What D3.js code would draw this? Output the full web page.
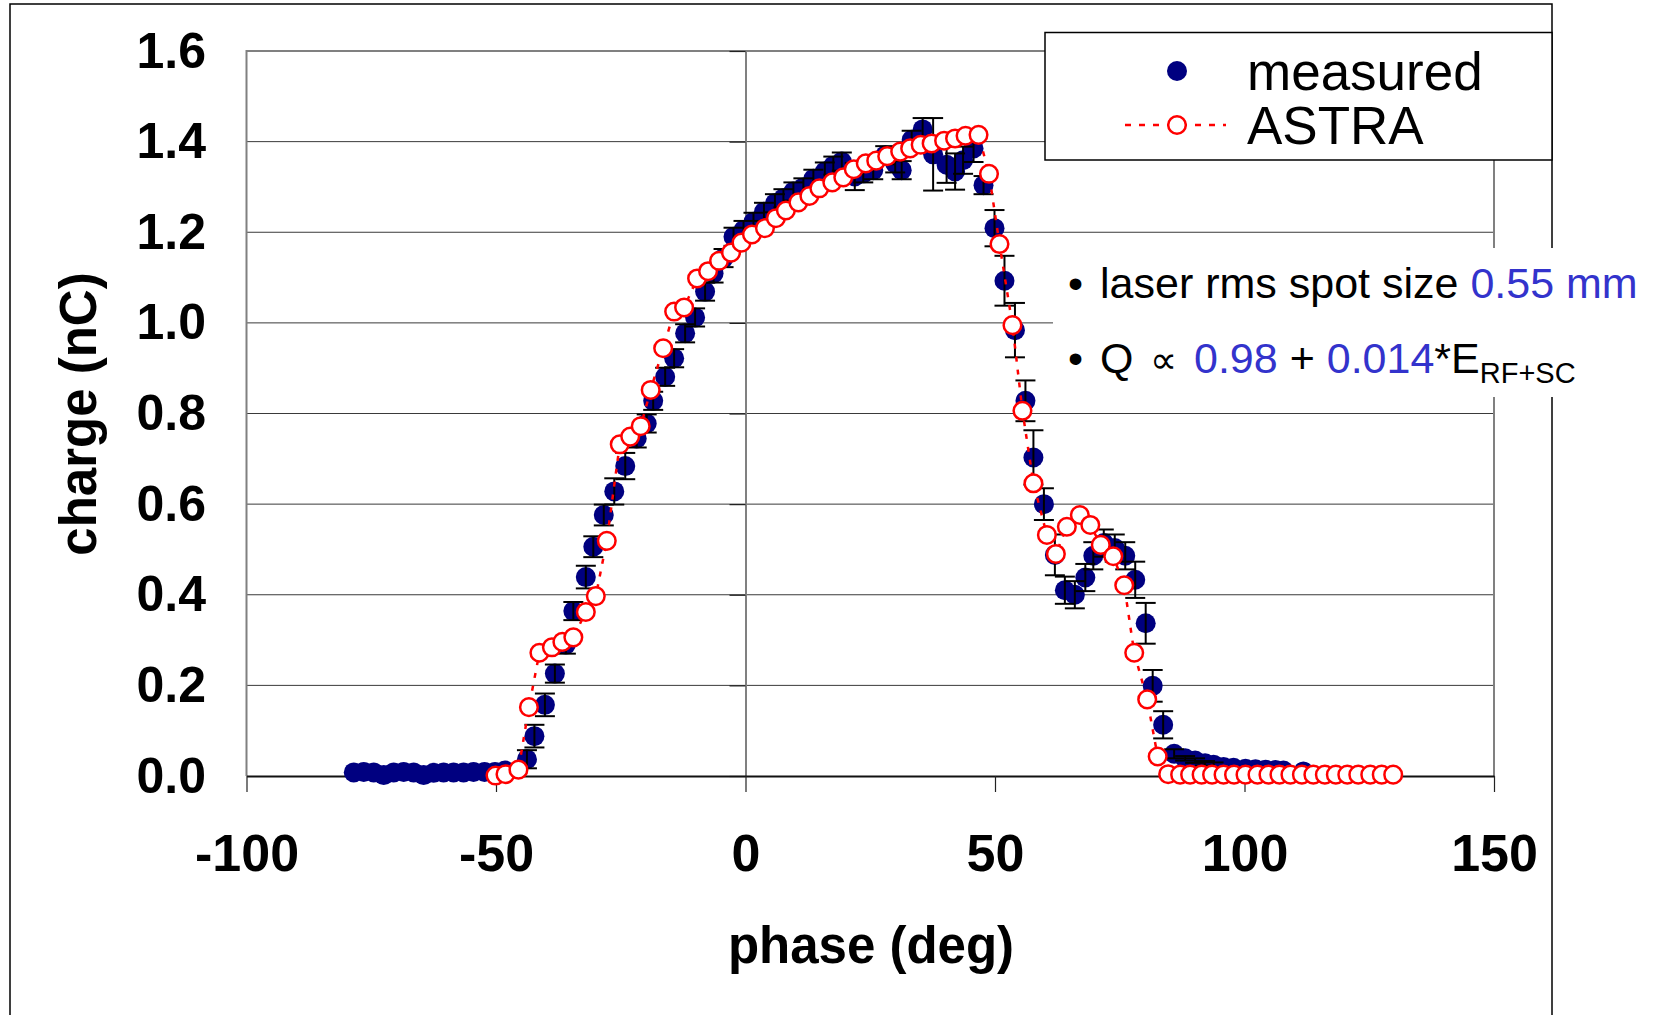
<!DOCTYPE html>
<html>
<head>
<meta charset="utf-8">
<script src="https://cdn.jsdelivr.net/npm/d3@7"></script>
<style>
  body { margin: 0; background: #fff; }
  text { font-family: "Liberation Sans", Arial, sans-serif; }
</style>
</head>
<body>
<div id="chart"></div>
<script>
// measured charge vs phase
var measPhase = [-78.5, -76.5, -74.5, -72.5, -70.5, -68.5, -66.5, -64.5, -62.5, -60.5,
  -58.5, -56.5, -54.5, -52.3, -50.2, -48.2, -43.8, -42.3, -40.2, -38.2,
  -36.0, -34.5, -32.0, -30.5, -28.4, -26.3, -24.1, -21.8, -19.8, -18.5,
  -16.1, -14.3, -12.1, -10.1, -8.1, -6.4, -4.4, -2.4, -0.4, 1.6,
  3.7, 5.9, 7.6, 9.6, 11.6, 13.6, 15.9, 17.6, 19.3, 21.9,
  23.6, 25.6, 28.0, 30.0, 31.3, 33.3, 35.5, 37.6, 40.3, 42.0,
  43.6, 45.7, 47.7, 49.9, 51.9, 54.0, 56.1, 57.7, 59.8, 62.0,
  64.0, 66.0, 68.1, 69.7, 71.8, 74.0, 76.1, 78.1, 80.2, 81.6,
  83.7, 85.9, 88.1, 90.1, 92.1, 93.8, 95.8, 97.8, 100.2, 102.2,
  104.2, 106.2, 107.8, 111.8];
var measCharge = [0.008, 0.009, 0.008, 0.002, 0.008, 0.009, 0.008, 0.002, 0.007, 0.008,
  0.008, 0.008, 0.009, 0.009, 0.009, 0.012, 0.037, 0.088, 0.157, 0.226,
  0.29, 0.364, 0.439, 0.506, 0.576, 0.628, 0.684, 0.745, 0.778, 0.828,
  0.881, 0.922, 0.977, 1.012, 1.069, 1.109, 1.143, 1.19, 1.205, 1.223,
  1.245, 1.264, 1.275, 1.29, 1.299, 1.318, 1.334, 1.347, 1.356, 1.323,
  1.33, 1.337, 1.37, 1.352, 1.337, 1.404, 1.427, 1.372, 1.349, 1.334,
  1.359, 1.385, 1.304, 1.209, 1.093, 0.984, 0.828, 0.703, 0.60, 0.488,
  0.41, 0.40, 0.438, 0.486, 0.514, 0.503, 0.486, 0.433, 0.337, 0.199,
  0.113, 0.049, 0.039, 0.034, 0.028, 0.025, 0.02, 0.018, 0.016, 0.015,
  0.014, 0.013, 0.012, 0.01];
var measErr = [0, 0, 0, 0, 0, 0, 0, 0, 0, 0,
  0, 0, 0, 0, 0, 0.005, 0.02, 0.025, 0.025, 0.02,
  0.02, 0.02, 0.025, 0.023, 0.023, 0.029, 0.029, 0.02, 0.02, 0.02,
  0.02, 0.02, 0.02, 0.02, 0.02, 0.02, 0.02, 0.02, 0.02, 0.02,
  0.02, 0.02, 0.02, 0.02, 0.02, 0.02, 0.02, 0.02, 0.02, 0.03,
  0.02, 0.02, 0.02, 0.02, 0.02, 0.02, 0.025, 0.08, 0.04, 0.04,
  0.03, 0.03, 0.02, 0.04, 0.055, 0.06, 0.045, 0.06, 0.035, 0.045,
  0.03, 0.03, 0.03, 0.03, 0.03, 0.03, 0.03, 0.04, 0.045, 0.035,
  0.03, 0.01, 0.005, 0.005, 0.005, 0.005, 0, 0, 0, 0,
  0, 0, 0, 0];

// ASTRA simulation
var astraPhase = [-50.1, -48.1, -45.5, -43.4, -41.3, -38.8, -36.7, -34.5, -32.0, -30.0,
  -27.8, -25.2, -23.1, -21.0, -19.0, -16.5, -14.3, -12.3, -9.7, -7.5,
  -5.3, -2.9, -0.8, 1.3, 3.9, 6.1, 8.1, 10.6, 12.8, 14.8,
  17.4, 19.6, 21.7, 24.1, 26.2, 28.4, 31.0, 33.0, 35.1, 37.3,
  39.8, 42.0, 44.1, 46.7, 48.8, 50.9, 53.5, 55.5, 57.7, 60.4,
  62.2, 64.4, 67.0, 69.1, 71.2, 73.7, 75.9, 77.9, 80.5, 82.6,
  84.7, 87.1, 89.1, 91.4, 93.5, 95.8, 97.9, 100.2, 102.6, 104.8,
  107.0, 109.2, 111.5, 113.8, 116.1, 118.3, 120.6, 122.8, 125.2, 127.5,
  129.8];
var astraCharge = [0.001, 0.004, 0.014, 0.152, 0.272, 0.284, 0.296, 0.306, 0.362, 0.397,
  0.519, 0.732, 0.749, 0.772, 0.852, 0.944, 1.025, 1.034, 1.098, 1.114,
  1.137, 1.155, 1.177, 1.195, 1.209, 1.231, 1.248, 1.266, 1.28, 1.297,
  1.31, 1.321, 1.339, 1.352, 1.358, 1.368, 1.378, 1.385, 1.393, 1.396,
  1.402, 1.407, 1.413, 1.415, 1.329, 1.174, 0.995, 0.806, 0.646, 0.532,
  0.49, 0.55, 0.576, 0.554, 0.51, 0.485, 0.421, 0.272, 0.169, 0.043,
  0.004, 0.003, 0.003, 0.003, 0.003, 0.003, 0.003, 0.003, 0.003, 0.003,
  0.003, 0.003, 0.003, 0.003, 0.003, 0.003, 0.003, 0.003, 0.003, 0.003,
  0.003];

var xTicks = [-100, -50, 0, 50, 100, 150];
var yTicks = [0, 0.2, 0.4, 0.6, 0.8, 1.0, 1.2, 1.4, 1.6];
var seriesNames = ['measured', 'ASTRA'];

var chartWidth = 1653;
var chartHeight = 1015;
var plotLeft = 246.5, plotRight = 1494, plotTop = 51, plotBottom = 776;
var navy = '#000080', red = '#ff0000', blue = '#3333cc';

var svg = d3.select('#chart')
    .append('svg')
    .attr('width', chartWidth)
    .attr('height', chartHeight);

// outer frame
svg.append('rect')
    .attr('x', 10).attr('y', 4)
    .attr('width', 1542).attr('height', 1040)
    .attr('fill', '#fff')
    .attr('stroke', '#000')
    .attr('stroke-width', 1.5);

var scaleX = d3.scaleLinear().domain([-100, 150]).range([plotLeft, plotRight]);
var scaleY = d3.scaleLinear().domain([0, 1.6]).range([plotBottom, plotTop]);

// horizontal gridlines
svg.selectAll('line.grid')
    .data(yTicks.filter(function(d) { return d > 0 && d < 1.6; }))
    .enter()
    .append('line')
    .attr('class', 'grid')
    .attr('x1', plotLeft).attr('x2', plotRight)
    .attr('y1', function(d) { return scaleY(d); })
    .attr('y2', function(d) { return scaleY(d); })
    .attr('stroke', '#3a3a3a')
    .attr('stroke-width', 1);

// plot area border (left, top, right)
svg.append('path')
    .attr('d', 'M' + plotLeft + ',' + plotBottom + 'V' + plotTop + 'H' + plotRight + 'V' + plotBottom)
    .attr('fill', 'none')
    .attr('stroke', '#808080')
    .attr('stroke-width', 2);

// y tick labels on the left
var yLabels = svg.append('g')
    .attr('transform', 'translate(' + plotLeft + ',0)')
    .call(d3.axisLeft(scaleY).tickValues(yTicks).tickFormat(d3.format('.1f')).tickSize(0).tickPadding(40.5));
yLabels.select('.domain').remove();
yLabels.selectAll('text')
    .attr('font-size', 50)
    .attr('font-weight', 'bold')
    .attr('font-family', '"Liberation Sans", Arial, sans-serif')
    .attr('fill', '#000');

// value axis line crossing at phase 0
var yAxis = svg.append('g')
    .attr('transform', 'translate(' + scaleX(0) + ',0)')
    .call(d3.axisLeft(scaleY).tickValues(yTicks).tickFormat('').tickSize(16).tickSizeOuter(0));
yAxis.select('.domain').attr('stroke', '#808080').attr('stroke-width', 2);
yAxis.selectAll('.tick line').attr('stroke', '#222').attr('stroke-width', 1.2);

// x axis along charge 0
var xAxis = svg.append('g')
    .attr('transform', 'translate(0,' + scaleY(0) + ')')
    .call(d3.axisBottom(scaleX).tickValues(xTicks)
      .tickFormat(function(d) { return String(d); })
      .tickSize(16).tickSizeOuter(0).tickPadding(42));
xAxis.select('.domain').attr('stroke', '#111').attr('stroke-width', 2);
xAxis.selectAll('.tick line').attr('stroke', '#222').attr('stroke-width', 1.2);
xAxis.selectAll('text')
    .attr('font-size', 52)
    .attr('font-weight', 'bold')
    .attr('font-family', '"Liberation Sans", Arial, sans-serif')
    .attr('fill', '#000');

// axis titles
svg.append('text')
    .attr('x', 871).attr('y', 963)
    .attr('text-anchor', 'middle')
    .attr('font-size', 51)
    .attr('font-weight', 'bold')
    .text('phase (deg)');

svg.append('text')
    .attr('transform', 'translate(96,414) rotate(-90)')
    .attr('text-anchor', 'middle')
    .attr('font-size', 51)
    .attr('font-weight', 'bold')
    .text('charge (nC)');

var meas = measPhase.map(function(p, i) {
  return {phase: p, charge: measCharge[i], err: measErr[i]};
});
var astra = astraPhase.map(function(p, i) {
  return {phase: p, charge: astraCharge[i]};
});

// measured points
svg.append('g').selectAll('circle')
    .data(meas)
    .enter()
    .append('circle')
    .attr('cx', function(d) { return scaleX(d.phase); })
    .attr('cy', function(d) { return scaleY(d.charge); })
    .attr('r', 10)
    .attr('fill', navy);

// error bars
var errG = svg.append('g')
    .attr('stroke', '#000')
    .attr('stroke-width', 2);
var withErr = meas.filter(function(d) { return d.err > 0; });
errG.selectAll('line.bar')
    .data(withErr)
    .enter()
    .append('line')
    .attr('x1', function(d) { return scaleX(d.phase); })
    .attr('x2', function(d) { return scaleX(d.phase); })
    .attr('y1', function(d) { return scaleY(d.charge + d.err); })
    .attr('y2', function(d) { return scaleY(d.charge - d.err); });
errG.selectAll('line.capTop')
    .data(withErr)
    .enter()
    .append('line')
    .attr('x1', function(d) { return scaleX(d.phase) - 10; })
    .attr('x2', function(d) { return scaleX(d.phase) + 10; })
    .attr('y1', function(d) { return scaleY(d.charge + d.err); })
    .attr('y2', function(d) { return scaleY(d.charge + d.err); });
errG.selectAll('line.capBot')
    .data(withErr)
    .enter()
    .append('line')
    .attr('x1', function(d) { return scaleX(d.phase) - 10; })
    .attr('x2', function(d) { return scaleX(d.phase) + 10; })
    .attr('y1', function(d) { return scaleY(d.charge - d.err); })
    .attr('y2', function(d) { return scaleY(d.charge - d.err); });

// ASTRA dashed line + open circles
var line = d3.line()
    .x(function(d) { return scaleX(d.phase); })
    .y(function(d) { return scaleY(d.charge); });

svg.append('path')
    .datum(astra)
    .attr('d', line)
    .attr('fill', 'none')
    .attr('stroke', red)
    .attr('stroke-width', 2.5)
    .attr('stroke-dasharray', '5,8');

svg.append('g').selectAll('circle')
    .data(astra)
    .enter()
    .append('circle')
    .attr('cx', function(d) { return scaleX(d.phase); })
    .attr('cy', function(d) { return scaleY(d.charge); })
    .attr('r', 8.8)
    .attr('fill', '#fff')
    .attr('stroke', red)
    .attr('stroke-width', 2.5);

// legend
svg.append('rect')
    .attr('x', 1045).attr('y', 32.5)
    .attr('width', 507).attr('height', 127.5)
    .attr('fill', '#fff')
    .attr('stroke', '#000')
    .attr('stroke-width', 1.5);

svg.append('circle')
    .attr('cx', 1177).attr('cy', 71)
    .attr('r', 10)
    .attr('fill', navy);
svg.append('line')
    .attr('x1', 1125).attr('x2', 1226)
    .attr('y1', 125).attr('y2', 125)
    .attr('stroke', red)
    .attr('stroke-width', 2.5)
    .attr('stroke-dasharray', '6,8');
svg.append('circle')
    .attr('cx', 1177).attr('cy', 125)
    .attr('r', 8.8)
    .attr('fill', '#fff')
    .attr('stroke', red)
    .attr('stroke-width', 2.5);

svg.selectAll('text.legend')
    .data(seriesNames)
    .enter()
    .append('text')
    .attr('class', 'legend')
    .attr('x', 1247)
    .attr('y', function(d, i) { return 90 + i * 54; })
    .attr('font-size', 53)
    .text(function(d) { return d; });

// annotation box
svg.append('rect')
    .attr('x', 1053).attr('y', 248)
    .attr('width', 600).attr('height', 149)
    .attr('fill', '#fff');

svg.append('text').attr('x', 1068).attr('y', 298).attr('font-size', 43).text('\u2022');
var t1 = svg.append('text').attr('x', 1100).attr('y', 298).attr('font-size', 43);
t1.append('tspan').text('laser rms spot size ');
t1.append('tspan').attr('fill', blue).text('0.55 mm');

svg.append('text').attr('x', 1068).attr('y', 373).attr('font-size', 43).text('\u2022');
var t2 = svg.append('text').attr('x', 1100).attr('y', 373).attr('font-size', 43);
t2.append('tspan').text('Q');
t2.append('tspan').attr('x', 1150).attr('font-size', 38).text('\u221d');
t2.append('tspan').attr('x', 1194).attr('fill', blue).text('0.98');
t2.append('tspan').text(' + ');
t2.append('tspan').attr('fill', blue).text('0.014');
t2.append('tspan').text('*E');
t2.append('tspan').attr('font-size', 29).attr('dy', 10).text('RF+SC');
</script>
</body>
</html>
